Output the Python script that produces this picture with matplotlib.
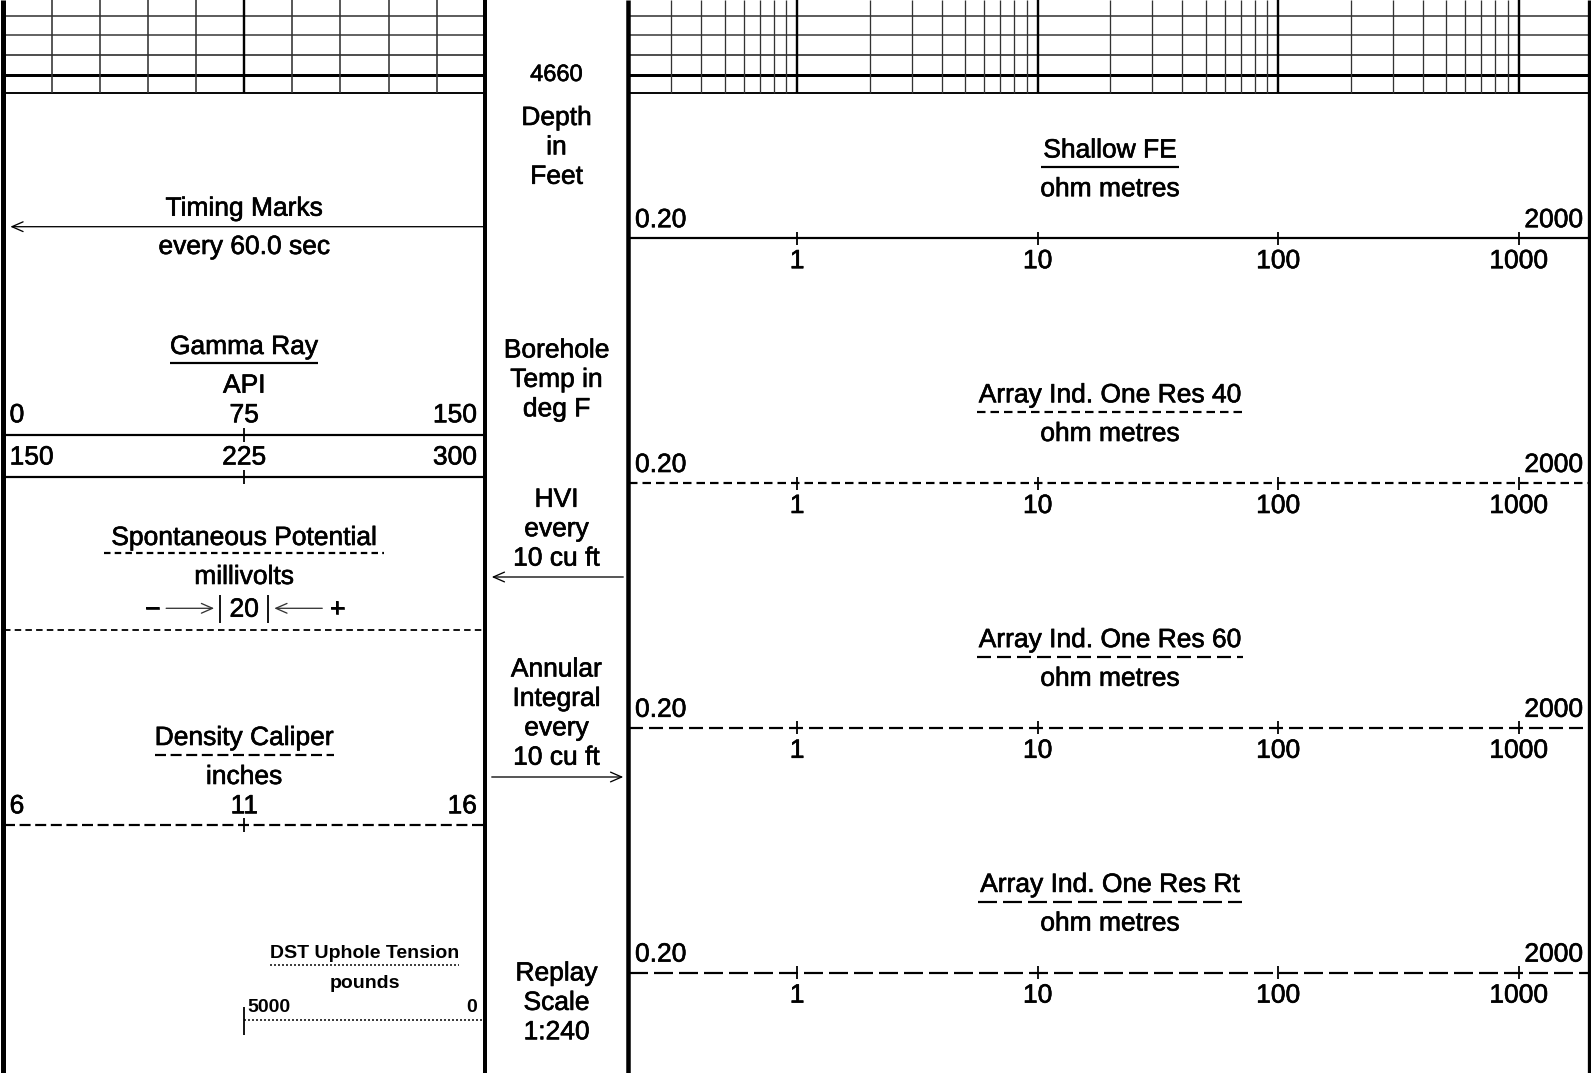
#!/usr/bin/env python3
"""Redraw a wireline log header: left curve track, depth track and resistivity track."""

from __future__ import annotations

import matplotlib

matplotlib.use("Agg")
import matplotlib.patheffects as pe
import matplotlib.pyplot as plt
from matplotlib.lines import Line2D

# --- header content -------------------------------------------------------
timing_title = "Timing Marks"
timing_note = "every 60.0 sec"

gr_title = "Gamma Ray"
gr_unit = "API"
gr_scale = [0, 75, 150]
gr_backup_scale = [150, 225, 300]

sp_title = "Spontaneous Potential"
sp_unit = "millivolts"
sp_span = 20          # mV per division
sp_divisions = 10

cal_title = "Density Caliper"
cal_unit = "inches"
cal_scale = [6, 11, 16]

dst_title = "DST Uphole Tension"
dst_unit = "pounds"
dst_scale = [5000, 0]

depth_value = 4660
depth_notes = [
    ["Depth", "in", "Feet"],
    ["Borehole", "Temp in", "deg F"],
    ["HVI", "every", "10 cu ft"],
    ["Annular", "Integral", "every", "10 cu ft"],
    ["Replay", "Scale", "1:240"],
]

res_titles = [
    "Shallow FE",
    "Array Ind. One Res 40",
    "Array Ind. One Res 60",
    "Array Ind. One Res Rt",
]
res_unit = "ohm metres"
res_scale = [0.20, 2000]
res_decades = [1, 10, 100, 1000]

# --- layout (pixels) ------------------------------------------------------
W, H, DPI = 1591, 1073, 100
PX = 72 / DPI
FS = 19
DST_FS = 14
LEFT = (3.6, 484.8)
MID = (484.7, 628.3)
RIGHT = (629.0, 1591.0)
GRID_BOTTOM = 93

plt.rcParams["font.family"] = ["Liberation Sans", "DejaVu Sans"]
plt.rcParams["lines.scale_dashes"] = False
plt.rcParams["lines.dash_capstyle"] = "butt"
plt.rcParams["lines.solid_capstyle"] = "butt"

# slightly heavier glyphs, like the bitmap font of the original print
HEAVY = [pe.withStroke(linewidth=0.45, foreground="black")]


def dash(on: float, off: float):
    return (0, (on * PX, off * PX))


STYLES = {
    "solid": "-",
    "sp": dash(6.5, 4.2),
    "short": dash(8.5, 5.0),
    "medium": dash(14, 6),
    "long": dash(19, 6),
    "caliper": dash(11, 4.6),
    "dotted": dash(2, 2),
}
RES_STYLES = ["solid", "short", "medium", "long"]

fig = plt.figure(figsize=(W / DPI, H / DPI), dpi=DPI)
fig.patch.set_facecolor("white")


def add_track(span, xlim, log=False):
    x0, x1 = span
    ax = fig.add_axes([x0 / W, 0, (x1 - x0) / W, 1])
    if log:
        ax.set_xscale("log")
    ax.set_xlim(*xlim)
    ax.set_ylim(H, 0)
    ax.axis("off")
    return ax


def label(ax, x, y, s, ha="center", dx=0, size=FS, weight="normal", xycoords="data"):
    return ax.annotate(
        s, (x, y), xytext=(dx, 0), textcoords="offset pixels", xycoords=xycoords,
        ha=ha, va="baseline", fontsize=size, fontweight=weight, annotation_clip=False,
        path_effects=HEAVY if weight == "normal" else None,
    )


def hline(ax, x0, x1, y, style="solid", width=2.2, color="black"):
    ax.plot([x0, x1], [y, y], linestyle=STYLES[style], lw=width * PX, color=color,
            clip_on=False)


def tick(ax, x, y, half=7, width=1.8):
    ax.plot([x, x], [y - half, y + half], lw=width * PX, color="black", clip_on=False)


def arrow(ax, x_from, x_to, y, xycoords="data", shrink=0.0, color="black"):
    ax.annotate(
        "", xy=(x_to, y), xytext=(x_from, y), xycoords=xycoords, textcoords=xycoords,
        annotation_clip=False,
        arrowprops=dict(arrowstyle="->,head_length=0.8,head_width=0.35", mutation_scale=10,
                        lw=1.3 * PX, color=color, shrinkA=0, shrinkB=shrink * PX),
    )


ax_gr = add_track(LEFT, (gr_scale[0], gr_scale[-1]))
ax_gr2 = add_track(LEFT, (gr_backup_scale[0], gr_backup_scale[-1]))
ax_sp = add_track(LEFT, (-sp_span * sp_divisions / 2, sp_span * sp_divisions / 2))
ax_cal = add_track(LEFT, (cal_scale[0], cal_scale[-1]))
ax_dst = add_track(LEFT, (2 * dst_scale[0] - dst_scale[1], dst_scale[1]))
ax_mid = add_track(MID, (0, 1))
ax_res = add_track(RIGHT, (res_scale[0], res_scale[1]), log=True)

# --- track borders --------------------------------------------------------
for x, w in [(3.0, 5.0), (484.7, 4.0), (628.3, 4.5), (1588.5, 3.3)]:
    fig.add_artist(Line2D([x / W, x / W], [0, 1], transform=fig.transFigure,
                          lw=w * PX, color="black"))

# --- depth grid at top ----------------------------------------------------
grid_rows = [(15.5, "#2a2a2a", 1.5), (35, "#666666", 2.0), (55, "#333333", 1.7),
             (74.5, "black", 3.0), (GRID_BOTTOM, "black", 1.9)]
for y, c, w in grid_rows:
    hline(ax_gr, gr_scale[0], gr_scale[-1], y, width=w, color=c)
    hline(ax_res, res_scale[0], res_scale[1], y, width=w, color=c)

step = (gr_scale[-1] - gr_scale[0]) / 10
for k in range(1, 10):
    x = gr_scale[0] + k * step
    thick = k == 5
    ax_gr.plot([x, x], [0, GRID_BOTTOM], color="black" if thick else "#333333",
               lw=(2.4 if thick else 1.6) * PX)

for decade in [0.1, 1, 10, 100, 1000]:
    for k in range(1, 10):
        v = k * decade
        if res_scale[0] < v < res_scale[1]:
            major = k == 1
            ax_res.plot([v, v], [0, GRID_BOTTOM], color="black" if major else "#333333",
                        lw=(2.4 if major else 1.3) * PX)

renderer = fig.canvas.get_renderer()


def underline(ax, text, y, style, width=2.2, margin=3):
    bb = text.get_window_extent(renderer)
    inv = ax.transData.inverted()
    x0 = inv.transform((bb.x0 - margin, 0))[0]
    x1 = inv.transform((bb.x1 + margin, 0))[0]
    hline(ax, x0, x1, y, style=style, width=width)


mid_x = 0.5 * (gr_scale[0] + gr_scale[-1])

# --- timing marks ---------------------------------------------------------
label(ax_gr, mid_x, 215.7, timing_title)
arrow(ax_gr, 1.0, 0.014, 226.7, xycoords=("axes fraction", "data"))
label(ax_gr, mid_x, 254, timing_note)

# --- gamma ray ------------------------------------------------------------
t = label(ax_gr, mid_x, 354, gr_title)
underline(ax_gr, t, 362.7, "solid", margin=0)
label(ax_gr, mid_x, 392.7, gr_unit)
for ax, scale, y_line in [(ax_gr, gr_scale, 434.5), (ax_gr2, gr_backup_scale, 476.7)]:
    label(ax, scale[0], y_line - 12.2, f"{scale[0]}", ha="left", dx=6)
    label(ax, scale[1], y_line - 12.2, f"{scale[1]}")
    label(ax, scale[2], y_line - 12.2, f"{scale[2]}", ha="right", dx=-8)
    hline(ax, scale[0], scale[2], y_line)
    tick(ax, scale[1], y_line)

# --- spontaneous potential -----------------------------------------------
t = label(ax_sp, 0, 545, sp_title)
underline(ax_sp, t, 553.3, "sp", margin=7)
label(ax_sp, 0, 584, sp_unit)
half = sp_span / 2
label(ax_sp, 0, 616.7, f"{sp_span}")
for side in (-1, 1):
    xb = side * half
    ax_sp.plot([xb, xb], [595, 623.3], color="black", lw=1.8 * PX)
    x_tail = ax_sp.transData.inverted().transform(
        (ax_sp.transData.transform((xb, 0))[0] + side * 54, 0))[0]
    arrow(ax_sp, x_tail, xb, 608.3, shrink=6, color="#333333")
label(ax_sp, -half, 616.7, "\u2212", dx=-68)
label(ax_sp, half, 616.7, "+", dx=69)
hline(ax_sp, -sp_span * sp_divisions / 2, sp_span * sp_divisions / 2, 630, style="sp", width=1.8)

# --- density caliper ------------------------------------------------------
t = label(ax_cal, cal_scale[1], 745, cal_title)
underline(ax_cal, t, 755, "caliper", margin=0)
label(ax_cal, cal_scale[1], 784, cal_unit)
label(ax_cal, cal_scale[0], 813.3, f"{cal_scale[0]}", ha="left", dx=6)
label(ax_cal, cal_scale[1], 813.3, f"{cal_scale[1]}")
label(ax_cal, cal_scale[2], 813.3, f"{cal_scale[2]}", ha="right", dx=-8)
hline(ax_cal, cal_scale[0], cal_scale[2], 825, style="caliper")
tick(ax_cal, cal_scale[1], 825)

# --- DST uphole tension ---------------------------------------------------
dst_mid = 0.5 * (dst_scale[0] + dst_scale[1])
t = label(ax_dst, dst_mid, 958.3, dst_title, size=DST_FS, weight="bold")
underline(ax_dst, t, 965, "dotted", width=1.5, margin=0)
label(ax_dst, dst_mid, 988.5, dst_unit, size=DST_FS, weight="bold")
label(ax_dst, dst_scale[0], 1012.3, f"{dst_scale[0]}", ha="left", dx=3, size=DST_FS, weight="bold")
label(ax_dst, dst_scale[1], 1012.3, f"{dst_scale[1]}", ha="right", dx=-8, size=DST_FS, weight="bold")
hline(ax_dst, dst_scale[0], dst_scale[1], 1020, style="dotted", width=1.5)
ax_dst.plot([dst_scale[0]] * 2, [1006.7, 1035], color="black", lw=1.8 * PX)

# --- depth track ----------------------------------------------------------
label(ax_mid, 0.5, 81, f"{depth_value}", size=17)
first_baselines = [125, 357.5, 506.8, 676.5, 980.5]
for lines, y0 in zip(depth_notes, first_baselines):
    for i, s in enumerate(lines):
        label(ax_mid, 0.5, y0 + 29.4 * i, s)
arrow(ax_mid, 0.965, 0.049, 577)
arrow(ax_mid, 0.049, 0.965, 777)

# --- resistivity track ----------------------------------------------------
res_mid = (res_scale[0] * res_scale[1]) ** 0.5
for i, title in enumerate(res_titles):
    yl = 238.2 + 244.8 * i
    style = RES_STYLES[i]
    t = label(ax_res, res_mid, yl - 80.7, title)
    underline(ax_res, t, yl - 70.8, style, margin=2)
    label(ax_res, res_mid, yl - 42, res_unit)
    label(ax_res, res_scale[0], yl - 11, f"{res_scale[0]:.2f}", ha="left", dx=6)
    label(ax_res, res_scale[1], yl - 11, f"{res_scale[1]:g}", ha="right", dx=-8)
    hline(ax_res, res_scale[0], res_scale[1], yl, style=style)
    for d in res_decades:
        tick(ax_res, d, yl, half=6.5)
        label(ax_res, d, yl + 30, f"{d:g}")

fig.savefig("out.png", dpi=DPI, facecolor="white")
